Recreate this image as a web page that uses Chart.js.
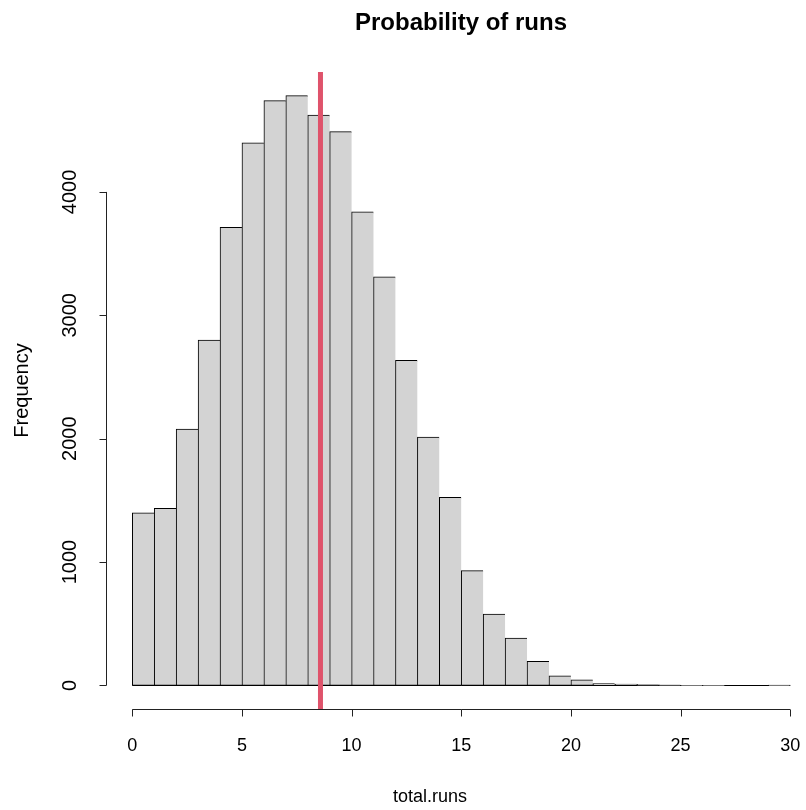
<!DOCTYPE html>
<html>
<head>
<meta charset="utf-8">
<script src="https://cdn.jsdelivr.net/npm/chart.js@4"></script>
<style>
html, body { margin: 0; padding: 0; background: #fff; }
#wrap { width: 806px; height: 810px; }
</style>
</head>
<body>
<div id="wrap"><canvas id="runsChart" width="806" height="810"></canvas></div>
<script>
// histogram breaks (bin edges) and counts per bin
const breaks = [0, 1, 2, 3, 4, 5, 6, 7, 8, 9, 10, 11, 12, 13, 14, 15, 16, 17, 18, 19, 20, 21, 22, 23, 24, 25, 26, 27, 28, 29, 30];
const counts = [1400, 1435, 2078, 2800, 3713, 4397, 4740, 4781, 4622, 4489, 3838, 3311, 2635, 2013, 1524, 930, 578, 384, 196, 78, 46, 16, 11, 8, 4, 1, 1, 0, 0, 2];

// mean of total.runs (red vertical line)
const meanRuns = 8.58;

// axis ticks
const xTicks = [0, 5, 10, 15, 20, 25, 30];
const yTicks = [0, 1000, 2000, 3000, 4000];

// plot limits (R adds 4% on each side)
const xLimits = [-1.2, 30.72];
const yLimits = [-191, 4972];

const title = 'Probability of runs';
const xLabel = 'total.runs';
const yLabel = 'Frequency';

const FONT = '"Liberation Sans", Arial, Helvetica, sans-serif';

const barData = counts.map((c, i) => ({ x: (breaks[i] + breaks[i + 1]) / 2, y: c }));

// R style axes, drawn from the chart's own scales
const rAxes = {
    id: 'rAxes',
    beforeDatasetsDraw(chart) {
        const { ctx, scales: { x, y } } = chart;
        const y0 = Math.round(y.getPixelForValue(0)) + 0.5;
        ctx.save();
        ctx.strokeStyle = '#000';
        ctx.lineWidth = 1;
        ctx.beginPath();
        ctx.moveTo(x.getPixelForValue(breaks[0]), y0);
        ctx.lineTo(x.getPixelForValue(breaks[breaks.length - 1]), y0);
        ctx.stroke();
        ctx.restore();
    },
    afterDraw(chart) {
        const { ctx, chartArea, scales: { x, y } } = chart;
        ctx.save();
        ctx.strokeStyle = '#222';
        ctx.fillStyle = '#000';
        ctx.lineWidth = 1;

        // x axis
        const ax = Math.round(chartArea.bottom) + 0.5;
        const x0 = x.getPixelForValue(xTicks[0]);
        const x1 = x.getPixelForValue(xTicks[xTicks.length - 1]);
        ctx.beginPath();
        ctx.moveTo(x0, ax);
        ctx.lineTo(x1, ax);
        xTicks.forEach(t => {
            const px = Math.round(x.getPixelForValue(t)) + 0.5;
            ctx.moveTo(px, ax);
            ctx.lineTo(px, ax + 7);
        });
        ctx.stroke();

        ctx.font = '18px ' + FONT;
        ctx.textAlign = 'center';
        ctx.textBaseline = 'middle';
        xTicks.forEach(t => ctx.fillText(String(t), x.getPixelForValue(t), 746));

        // y axis
        const ay = Math.round(chartArea.left) + 0.5;
        const yA = y.getPixelForValue(yTicks[0]);
        const yB = y.getPixelForValue(yTicks[yTicks.length - 1]);
        ctx.beginPath();
        ctx.moveTo(ay, yA);
        ctx.lineTo(ay, yB);
        yTicks.forEach(t => {
            const py = Math.round(y.getPixelForValue(t)) + 0.5;
            ctx.moveTo(ay, py);
            ctx.lineTo(ay - 7, py);
        });
        ctx.stroke();

        ctx.font = '20px ' + FONT;
        yTicks.forEach(t => {
            ctx.save();
            ctx.translate(70, y.getPixelForValue(t));
            ctx.rotate(-Math.PI / 2);
            ctx.fillText(String(t), 0, 0);
            ctx.restore();
        });

        // axis titles
        ctx.save();
        ctx.translate(22, (chartArea.top + chartArea.bottom) / 2);
        ctx.rotate(-Math.PI / 2);
        ctx.fillText(yLabel, 0, 0);
        ctx.restore();

        ctx.font = '18px ' + FONT;
        ctx.fillText(xLabel, 430, 797);

        // main title
        ctx.font = 'bold 24px ' + FONT;
        ctx.fillText(title, 461, 23);
        ctx.restore();
    }
};

const ctx = document.getElementById('runsChart').getContext('2d');

const runsChart = new Chart(ctx, {
    type: 'bar',
    data: {
        datasets: [{
            type: 'bar',
            data: barData,
            backgroundColor: '#D3D3D3',
            borderColor: '#000',
            borderSkipped: false,
            borderWidth: c => ({ top: 1, left: 1, bottom: 1, right: c.dataIndex === counts.length - 1 ? 1 : 0 }),
            barPercentage: 1,
            categoryPercentage: 1,
            order: 2
        }, {
            type: 'line',
            data: [{ x: meanRuns, y: yLimits[0] }, { x: meanRuns, y: yLimits[1] }],
            borderColor: '#DF536B',
            borderWidth: 5,
            pointRadius: 0,
            order: 1
        }]
    },
    options: {
        responsive: false,
        animation: false,
        devicePixelRatio: 1,
        layout: { padding: { left: 106, right: 0, top: 72, bottom: 101 } },
        plugins: {
            legend: { display: false },
            tooltip: { enabled: false },
            title: { display: false }
        },
        scales: {
            x: { type: 'linear', display: false, offset: false, min: xLimits[0], max: xLimits[1] },
            y: { type: 'linear', display: false, min: yLimits[0], max: yLimits[1] }
        }
    },
    plugins: [rAxes]
});
</script>
</body>
</html>
